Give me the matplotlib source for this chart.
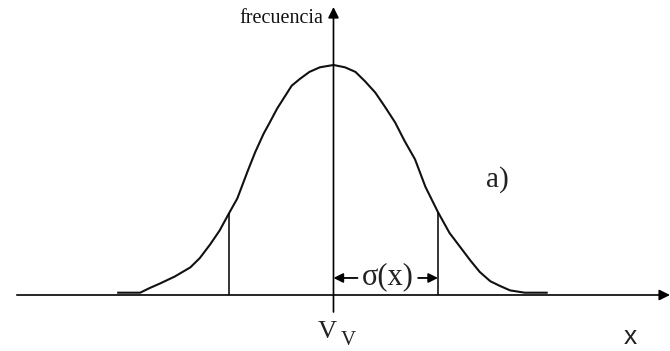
import matplotlib
matplotlib.use('Agg')
import matplotlib.pyplot as plt

# curve traced in units of sigma (x) and relative frequency (y, peak = 1)
curve_x = [-2.06, -1.85, -1.76, -1.66, -1.52, -1.37, -1.28, -1.18, -1.09, -1.00,
           -0.92, -0.87, -0.82, -0.75, -0.67, -0.61, -0.54, -0.47, -0.40, -0.32,
           -0.23, -0.13, 0.00,
           0.11, 0.21, 0.30, 0.40, 0.49, 0.59, 0.68, 0.78, 0.88, 1.00,
           1.11, 1.21, 1.31, 1.40, 1.50, 1.59, 1.69, 1.83, 2.04]
curve_y = [0.01, 0.01, 0.03, 0.05, 0.08, 0.12, 0.16, 0.22, 0.28, 0.355,
           0.42, 0.48, 0.54, 0.62, 0.70, 0.75, 0.81, 0.86, 0.91, 0.94,
           0.97, 0.99, 1.00,
           0.99, 0.97, 0.93, 0.88, 0.82, 0.75, 0.67, 0.59, 0.47, 0.36,
           0.27, 0.21, 0.15, 0.10, 0.06, 0.04, 0.02, 0.01, 0.01]

# vertical marks at one sigma either side of the centre
sigma_x = [-1.0, 1.0]
sigma_h = [0.355, 0.36]

serif = 'Liberation Serif'
sans = 'Liberation Sans'


def graph():
    fig = plt.figure(figsize=(6.7, 3.51), dpi=100)
    ax = fig.add_axes([0, 0, 1, 1])
    ax.set_xlim(-3.191, 3.22)
    ax.set_ylim(-0.2435, 1.2826)
    ax.axis('off')

    # axes with arrow heads
    ax.annotate('', xy=(3.22, 0), xytext=(-3.03, 0),
                arrowprops=dict(arrowstyle='-|>', color='black', lw=1.2,
                                mutation_scale=16, shrinkA=0, shrinkB=0))
    ax.annotate('', xy=(0, 1.252), xytext=(0, -0.074),
                arrowprops=dict(arrowstyle='-|>', color='black', lw=1.2,
                                mutation_scale=16, shrinkA=0, shrinkB=0))

    # the frequency curve
    ax.plot(curve_x, curve_y, color='#111111', lw=1.5, solid_joinstyle='round')

    # sigma lines
    ax.vlines(sigma_x, 0, sigma_h, color='black', lw=1.1)

    # sigma(x) double arrow with the label in the middle
    ay = 0.074
    ax.annotate('', xy=(0, ay), xytext=(0.23, ay),
                arrowprops=dict(arrowstyle='-|>', color='black', lw=1.3,
                                mutation_scale=14, shrinkA=0, shrinkB=0))
    ax.annotate('', xy=(sigma_x[1], ay), xytext=(0.81, ay),
                arrowprops=dict(arrowstyle='-|>', color='black', lw=1.3,
                                mutation_scale=14, shrinkA=0, shrinkB=0))
    ax.text(0.52, ay + 0.005, 'σ(x)', family=serif, fontsize=22,
            ha='center', va='center', color='#222222')

    # labels
    ax.text(-0.1, 1.2, 'frecuencia', family=serif, fontsize=14.5,
            ha='right', va='center', color='#111111')
    ax.text(1.57, 0.5, 'a)', family=serif, fontsize=21,
            ha='center', va='center', color='#222222')
    ax.text(-0.062, -0.161, 'V', family=serif, fontsize=19,
            ha='center', va='center', color='#222222')
    ax.text(0.14, -0.2, 'V', family=serif, fontsize=15,
            ha='center', va='center', color='#222222')
    ax.text(2.84, -0.183, 'x', family=sans, fontsize=19,
            ha='center', va='center', color='#222222')

    fig.savefig('out.png', dpi=100)


def main():
    graph()


if __name__ == "__main__":
    main()
